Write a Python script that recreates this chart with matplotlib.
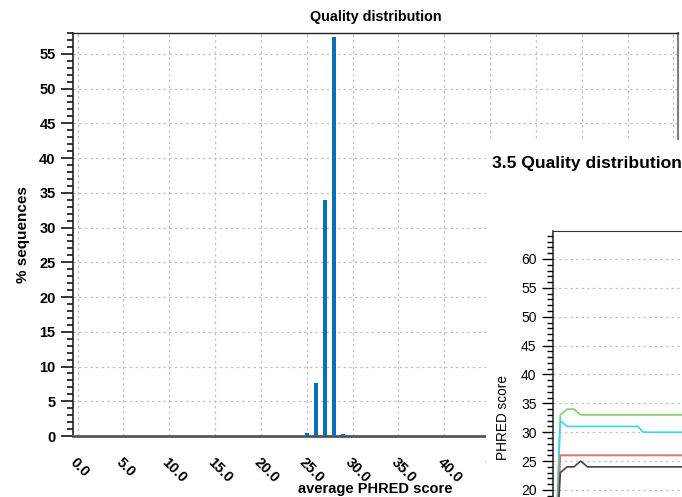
import matplotlib
matplotlib.use("Agg")
import matplotlib.pyplot as plt
from matplotlib.patches import Rectangle
from matplotlib.ticker import MultipleLocator
from matplotlib.transforms import ScaledTranslation

plt.rcParams['font.family'] = ['Liberation Sans', 'DejaVu Sans']

# Histogram of average read quality (% of sequences per PHRED bin)
phred_bins = [25, 26, 27, 28, 29]
pct_sequences = [0.5, 7.6, 33.9, 57.4, 0.3]
x_tick_values = [0, 5, 10, 15, 20, 25, 30, 35, 40, 45, 50, 55, 60, 65]
x_tick_labels = ["0.0", "5.0", "10.0", "15.0", "20.0", "25.0", "30.0",
                 "35.0", "40.0", "45.0", "50.0", "55.0", "60.0", "65.0"]

# Per-base quality lines (section 3.5 panel)
base_pos = [0, 1, 2, 3, 4, 5, 12.4, 13.2, 30]
q_green = [0, 33, 34, 34, 33, 33, 33, 33, 33]
q_cyan = [0, 32, 31, 31, 31, 31, 31, 30, 30]
q_red = [0, 26, 26, 26, 26, 26, 26, 26, 26]
q_black = [0, 23, 24, 24, 25, 24, 24, 24, 24]

W, H = 682, 497
PANEL_X = 486
fig = plt.figure(figsize=(W / 100, H / 100), dpi=100)


def px_box(x0, y0, x1, y1):
    return [x0 / W, 1 - y1 / H, (x1 - x0) / W, (y1 - y0) / H]


# ---- main histogram ----
ax = fig.add_axes(px_box(73, 33, 678, 436))
ax.bar(phred_bins, pct_sequences, width=0.45, color="#0b6fb8", zorder=3)
ax.set_xlim(-0.5, 65.5)
ax.set_ylim(0, 58)
ax.yaxis.set_major_locator(MultipleLocator(5))
ax.yaxis.set_minor_locator(MultipleLocator(1))
ax.set_xticks(x_tick_values)
ax.set_xticklabels(x_tick_labels, rotation=-45, ha="left", va="top",
                   rotation_mode="anchor", fontweight="bold", fontsize=10.5)
for val, lab in zip(x_tick_values, ax.get_xticklabels()):
    lab.set_transform(lab.get_transform() +
                      ScaledTranslation(-10 / 100, 1.5 / 100,
                                        fig.dpi_scale_trans))
    # labels lying completely under the overlay panel are not drawn
    if val >= 50:
        lab.set_visible(False)
ax.tick_params(axis="x", length=0, pad=14)
ax.tick_params(axis="y", which="major", length=9, width=1.1, pad=3.5,
               labelsize=10.5)
ax.tick_params(axis="y", which="minor", length=4.5, width=1.1)
for lab in ax.get_yticklabels():
    lab.set_fontweight("bold")
ax.grid(True, which="major", color="#c4c4c4", linestyle=(0, (2, 2.5)),
        linewidth=0.9, zorder=0)
ax.spines["top"].set_color("#222222")
ax.spines["top"].set_linewidth(1.0)
ax.spines["left"].set_color("#222222")
ax.spines["left"].set_linewidth(1.2)
ax.spines["right"].set_color("#808080")
ax.spines["right"].set_linewidth(1.5)
ax.spines["bottom"].set_color("#555555")
ax.spines["bottom"].set_linewidth(2.0)
ax.set_title("Quality distribution", fontsize=10.4, fontweight="bold", pad=9)
ax.set_xlabel("average PHRED score", fontsize=10.5, fontweight="bold",
              va="center")
ax.xaxis.set_label_coords(0.5, (436 - 489) / 403)
ax.set_ylabel("% sequences", fontsize=11, fontweight="bold")
ax.yaxis.set_label_coords((30 - 73) / 605, 0.5)

# ---- white panel laid over the lower right ----
fig.add_artist(Rectangle((PANEL_X / W, 0), (W - PANEL_X) / W, 1 - 140 / H,
                         transform=fig.transFigure, facecolor="white",
                         edgecolor="none", zorder=5))
fig.text(492 / W, 1 - 164 / H, "3.5 Quality distribution", fontsize=12.6,
         fontweight="bold", va="center", ha="left", zorder=6)

ax2 = fig.add_axes(px_box(552.5, 230.7, 756.5, 497))
ax2.set_zorder(7)
ax2.plot(base_pos, q_green, color="#7fd36c", lw=1.2)
ax2.plot(base_pos, q_cyan, color="#33d8ee", lw=1.2)
ax2.plot(base_pos, q_red, color="#de7373", lw=1.4)
ax2.plot(base_pos, q_black, color="#444444", lw=1.2)
ax2.set_xlim(-0.15, 29.85)
ax2.set_ylim(18.78, 64.9)
ax2.yaxis.set_major_locator(MultipleLocator(5))
ax2.yaxis.set_minor_locator(MultipleLocator(1))
ax2.set_xticks([])
ax2.tick_params(axis="y", which="major", length=8, width=1.0, pad=3.5,
                labelsize=10)
ax2.tick_params(axis="y", which="minor", length=4.5, width=1.0)
ax2.grid(True, axis="y", which="major", color="#c4c4c4",
         linestyle=(0, (2, 2.5)), linewidth=0.9)
ax2.spines["bottom"].set_visible(False)
ax2.spines["top"].set_color("#333333")
ax2.spines["left"].set_color("#222222")
ax2.spines["left"].set_linewidth(1.1)
ax2.set_ylabel("PHRED score", fontsize=9.8)
ax2.yaxis.set_label_coords((510 - 552.5) / 204, 0.30)

fig.savefig("out.png", dpi=100)
